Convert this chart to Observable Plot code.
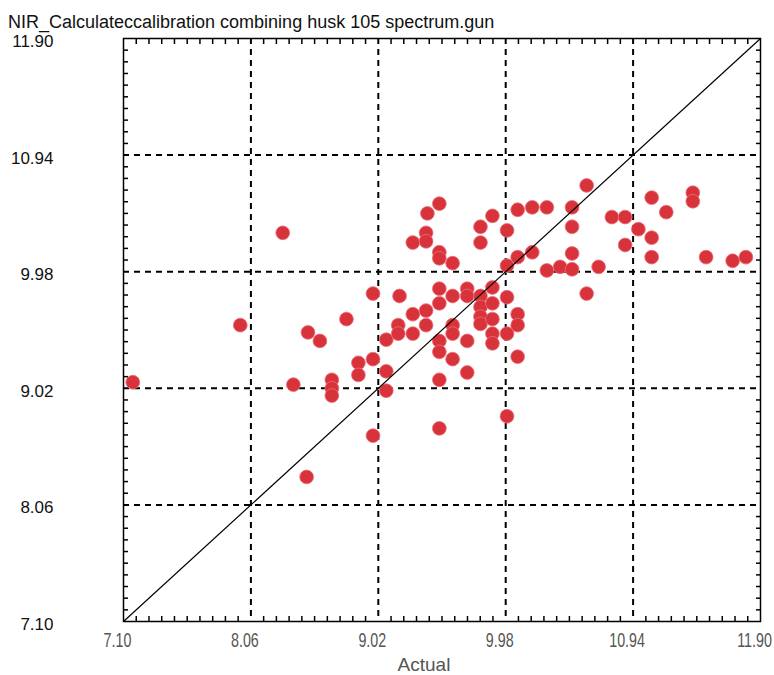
<!DOCTYPE html>
<html>
<head>
<meta charset="utf-8">
<script src="https://cdn.jsdelivr.net/npm/d3@7"></script>
<script src="https://cdn.jsdelivr.net/npm/@observablehq/plot@0.6"></script>
<style>
  body { margin: 0; background: #fff; }
  #title { height: 30px; box-sizing: border-box; padding: 13px 0 0 8px; font: 18px "Liberation Sans", Arial, sans-serif; line-height: 1; color: #111; white-space: nowrap; }
  #chart svg { overflow: visible; }
</style>
</head>
<body>
<div id="title">NIR_Calculateccalibration combining husk 105 spectrum.gun</div>
<div id="chart"></div>
<script>
const titleText = "NIR_Calculateccalibration combining husk 105 spectrum.gun";
const xLabel = "Actual";
const majorTicks = [7.10, 8.06, 9.02, 9.98, 10.94, 11.90];
const tickLabels = ["7.10", "8.06", "9.02", "9.98", "10.94", "11.90"];

const actual = [8.30, 7.98, 7.17, 8.49, 8.58, 8.78, 8.38, 8.67, 8.67, 8.67,
  8.48, 8.98, 8.87, 8.87, 8.98, 8.98, 9.08, 9.08, 9.08, 9.18,
  9.17, 9.17, 9.28, 9.28, 9.38, 9.38, 9.28, 9.38, 9.38, 9.39,
  9.48, 9.48, 9.48, 9.48, 9.48, 9.48, 9.48, 9.48, 9.48, 9.58,
  9.58, 9.58, 9.58, 9.58, 9.69, 9.69, 9.69, 9.69, 9.79, 9.79,
  9.79, 9.79, 9.79, 9.79, 9.88, 9.88, 9.88, 9.88, 9.88, 9.88,
  9.99, 9.99, 9.99, 9.99, 9.99, 10.07, 10.07, 10.07, 10.07, 10.07,
  10.18, 10.18, 10.29, 10.29, 10.39, 10.48, 10.48, 10.48, 10.48, 10.59,
  10.59, 10.68, 10.78, 10.88, 10.88, 10.98, 11.08, 11.08, 11.08, 11.19,
  11.39, 11.39, 11.49, 11.69, 11.79];
const calculated = [10.30, 9.54, 9.07, 9.48, 9.41, 9.59, 9.05, 9.09, 9.02, 8.96,
  8.29, 8.63, 9.23, 9.13, 9.26, 9.80, 9.16, 9.00, 9.42, 9.78,
  9.54, 9.47, 9.63, 9.47, 9.66, 9.54, 10.22, 10.30, 10.23, 10.46,
  10.54, 10.14, 10.09, 9.84, 9.72, 9.41, 9.32, 9.09, 8.69, 10.05,
  9.78, 9.54, 9.47, 9.26, 9.84, 9.78, 9.41, 9.15, 10.35, 10.22,
  9.78, 9.69, 9.61, 9.55, 10.44, 9.85, 9.72, 9.59, 9.47, 9.39,
  10.32, 10.03, 9.77, 9.47, 8.79, 10.49, 10.10, 9.63, 9.54, 9.28,
  10.51, 10.14, 10.51, 9.99, 10.02, 10.51, 10.35, 10.13, 10.00, 10.69,
  9.80, 10.02, 10.43, 10.43, 10.20, 10.33, 10.59, 10.26, 10.10, 10.47,
  10.63, 10.56, 10.10, 10.07, 10.10];

const points = actual.map((a, i) => ({actual: a, calculated: calculated[i]}));
const domain = [majorTicks[0], majorTicks[majorTicks.length - 1]];
const innerTicks = majorTicks.slice(1, -1);
const minorTicks = [];
for (let i = 0; i < majorTicks.length - 1; i++) {
  for (let k = 1; k < 10; k++) minorTicks.push(majorTicks[i] + (majorTicks[i + 1] - majorTicks[i]) * k / 10);
}
const fmt = d => tickLabels[majorTicks.findIndex(t => Math.abs(t - d) < 1e-6)];
const tickOpts = {tickSize: -5, text: null, label: null, stroke: "#000", strokeWidth: 1.5};

const chart = Plot.plot({
  width: 774,
  height: 645,
  marginTop: 8,
  marginLeft: 123,
  marginRight: 14,
  marginBottom: 54,
  style: {fontFamily: "'Liberation Sans', Arial, sans-serif", background: "#fff"},
  x: {domain, ticks: majorTicks},
  y: {domain, ticks: majorTicks},
  marks: [
    Plot.gridX(innerTicks, {stroke: "#000", strokeOpacity: 1, strokeWidth: 2, strokeDasharray: "6,5"}),
    Plot.gridY(innerTicks, {stroke: "#000", strokeOpacity: 1, strokeWidth: 2, strokeDasharray: "6,5"}),
    Plot.dot(points, {x: "actual", y: "calculated", r: 6.9, fill: "#d8333b", stroke: "#e8707a", strokeWidth: 0.8}),
    Plot.link([domain], {x1: d => d[0], y1: d => d[0], x2: d => d[1], y2: d => d[1], stroke: "#000", strokeWidth: 1.2}),
    Plot.axisX(minorTicks, {anchor: "bottom", ...tickOpts}),
    Plot.axisX(minorTicks, {anchor: "top", ...tickOpts}),
    Plot.axisY(minorTicks, {anchor: "left", ...tickOpts}),
    Plot.axisY(minorTicks, {anchor: "right", ...tickOpts}),
    Plot.axisX(majorTicks, {anchor: "bottom", tickSize: 0, tickPadding: 11, tickFormat: fmt, fontSize: 21, fill: "#555", dx: -6, label: null, className: "xlabels"}),
    Plot.axisY(majorTicks, {anchor: "left", tickSize: 0, tickPadding: 70, tickFormat: fmt, fontSize: 17, fill: "#111", dy: 3, label: null}),
    Plot.text([xLabel], {text: d => d, frameAnchor: "bottom", lineAnchor: "middle", dy: 43, dx: -18, fontSize: 19, fill: "#555"}),
    Plot.frame({stroke: "#000", strokeWidth: 1.5})
  ]
});
document.getElementById("chart").appendChild(chart);
// condensed look of the x tick labels
d3.select(chart).selectAll(".xlabels text").each(function() {
  const len = this.getComputedTextLength();
  this.setAttribute("textLength", (len * 0.68).toFixed(1));
  this.setAttribute("lengthAdjust", "spacingAndGlyphs");
});
</script>
</body>
</html>
